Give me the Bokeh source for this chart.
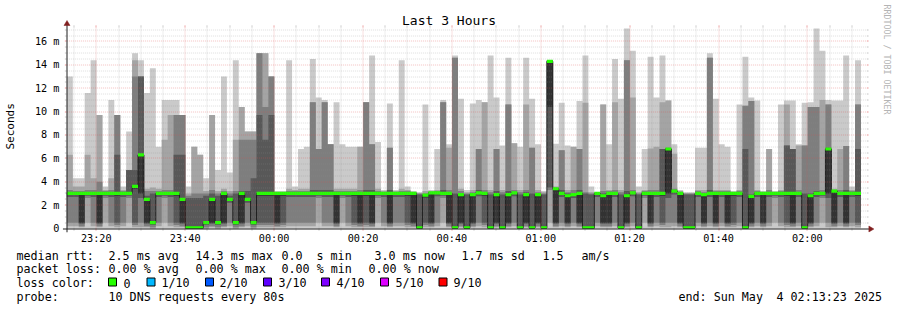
import math
import pandas as pd
from bokeh.plotting import figure
from bokeh.models import Range1d, FixedTicker, ColumnDataSource
from bokeh.layouts import column
from bokeh.embed import file_html
from bokeh.resources import INLINE
from bokeh.core.properties import value

# ---------------- data (values in milliseconds, one column per 80 s step) ----------------
start_time = "2025-05-03 23:13:23"
step_seconds = 80

ping10 = [
    13.0, 4.3, 4.3, 11.6, 14.4, 9.7, 3.6, 11.0, 9.7, 3.6,
    8.3, 15.0, 14.4, 11.6, 13.7, 7.0, 11.0, 11.0, 11.0, 9.7,
    3.6, 7.0, 6.3, 4.3, 9.7, 5.0, 13.0, 4.8, 14.4, 10.4,
    8.3, 8.3, 15.0, 15.0, 13.0, 3.2, 3.2, 14.4, 3.6, 6.8,
    7.0, 14.5, 11.2, 11.0, 7.2, 10.8, 7.2, 7.0, 7.0, 7.0,
    10.8, 14.8, 7.4, 3.3, 10.7, 3.3, 14.4, 3.6, 3.2, 3.1,
    10.6, 3.3, 6.8, 11.0, 7.2, 14.8, 11.1, 3.3, 10.7, 11.0,
    10.8, 14.8, 11.2, 7.1, 14.6, 7.3, 7.0, 14.6, 11.1, 7.2,
    3.2, 14.4, 7.25, 10.75, 7.1, 7.0, 10.9, 14.8, 3.6, 3.1,
    10.6, 7.2, 14.5, 11.1, 17.1, 15.2, 3.6, 6.8, 14.7, 11.2,
    14.8, 10.95, 7.2, 3.3, 3.1, 3.1, 6.9, 6.9, 15.0, 11.1,
    7.2, 7.0, 3.2, 10.6, 14.7, 11.2, 10.95, 3.2, 6.8, 3.2,
    10.6, 10.95, 10.95, 7.2, 10.75, 10.8, 17.1, 15.2, 11.0, 10.95,
    10.95, 14.8, 3.6, 14.4]
ping9 = [
    6.3, 3.6, 3.6, 6.3, 4.3, 9.7, 3.3, 4.3, 9.7, 3.3,
    5.0, 14.4, 13.0, 3.4, 3.5, 3.4, 7.6, 9.7, 9.7, 9.7,
    3.0, 7.0, 6.3, 3.2, 9.7, 3.2, 3.4, 3.2, 7.6, 10.4,
    8.3, 8.3, 15.0, 15.0, 13.0, 3.1, 3.1, 3.4, 3.3, 3.4,
    3.4, 10.8, 6.8, 10.8, 7.2, 3.4, 3.4, 3.4, 3.4, 7.0,
    10.8, 7.2, 3.4, 3.2, 6.9, 3.2, 3.4, 3.3, 3.1, 3.0,
    3.2, 3.2, 3.3, 10.8, 6.9, 14.6, 3.4, 3.1, 3.3, 6.8,
    10.8, 3.3, 6.8, 3.3, 10.6, 7.3, 3.3, 10.6, 6.9, 3.3,
    3.1, 14.4, 3.6, 6.7, 3.3, 7.0, 6.8, 10.75, 3.1, 3.05,
    10.6, 3.3, 10.8, 3.3, 14.4, 11.2, 3.1, 3.3, 6.85, 7.0,
    10.8, 10.95, 6.4, 3.2, 3.0, 3.0, 3.3, 3.3, 14.6, 3.3,
    3.3, 3.3, 3.1, 3.3, 10.5, 10.9, 3.3, 3.1, 6.8, 3.1,
    3.3, 10.6, 6.8, 7.1, 7.1, 10.4, 10.4, 11.0, 10.6, 3.4,
    6.8, 7.05, 3.3, 10.6]
ping8 = [
    3.3, 3.2, 3.2, 3.3, 3.3, 4.0, 3.2, 3.3, 9.7, 3.2,
    5.0, 13.0, 13.0, 3.2, 3.2, 3.2, 3.3, 3.3, 9.7, 9.7,
    2.8, 3.0, 3.0, 3.0, 3.3, 3.0, 3.2, 3.0, 3.2, 7.6,
    7.6, 7.6, 15.0, 10.4, 13.0, 3.1, 3.1, 3.2, 3.2, 3.2,
    3.2, 10.8, 6.8, 10.8, 7.2, 3.2, 3.2, 3.2, 3.2, 3.3,
    10.8, 7.2, 3.2, 3.1, 6.9, 3.1, 3.2, 3.2, 3.1, 3.0,
    3.0, 3.1, 3.2, 10.8, 3.3, 14.6, 3.2, 3.0, 3.1, 6.8,
    3.3, 3.1, 6.8, 3.1, 10.6, 3.3, 3.1, 3.3, 6.9, 3.1,
    3.0, 14.4, 3.5, 6.7, 3.1, 3.3, 6.8, 3.1, 3.0, 3.05,
    3.2, 3.2, 3.3, 3.1, 14.4, 3.3, 3.0, 3.2, 3.3, 3.3,
    6.8, 6.9, 3.4, 3.1, 3.0, 3.0, 3.2, 3.1, 14.6, 3.2,
    3.2, 3.2, 3.1, 3.2, 10.5, 10.9, 3.2, 3.1, 3.3, 3.1,
    3.2, 7.1, 6.8, 3.3, 7.1, 10.4, 10.4, 3.3, 10.6, 3.3,
    3.3, 7.05, 3.2, 10.6]
ping7 = [
    3.1, 3.1, 3.1, 3.1, 3.1, 3.1, 3.1, 3.1, 6.3, 3.1,
    5.0, 5.0, 13.0, 2.8, 3.0, 3.1, 3.1, 3.1, 6.3, 6.3,
    2.6, 2.6, 2.6, 2.8, 3.0, 2.8, 3.1, 2.8, 3.0, 3.2,
    3.2, 4.3, 9.7, 7.6, 9.7, 3.05, 3.05, 3.1, 3.1, 3.1,
    3.1, 3.3, 3.3, 3.3, 3.3, 3.1, 3.1, 3.1, 3.1, 3.1,
    3.3, 3.3, 3.1, 3.05, 3.3, 3.05, 3.1, 3.1, 3.05, 2.9,
    2.9, 3.05, 3.1, 3.3, 3.1, 3.0, 3.0, 2.9, 3.0, 3.3,
    3.1, 2.9, 3.2, 2.9, 3.2, 3.1, 2.9, 3.1, 3.0, 3.0,
    2.9, 14.4, 3.45, 3.3, 3.0, 3.0, 3.3, 3.0, 2.9, 3.0,
    3.0, 3.1, 3.1, 2.9, 3.2, 3.1, 2.9, 3.1, 3.1, 3.1,
    6.8, 6.85, 3.3, 3.05, 2.9, 2.9, 3.1, 3.0, 3.3, 3.1,
    3.1, 3.1, 3.05, 3.1, 6.8, 2.9, 3.1, 3.05, 3.1, 3.05,
    3.1, 7.1, 6.8, 3.1, 3.0, 3.0, 3.2, 3.1, 6.9, 3.25,
    3.1, 3.3, 3.1, 6.8]
median = [
    3.0, 3.0, 3.0, 3.0, 3.0, 3.0, 3.0, 3.0, 3.0, 3.0,
    3.0, 3.6, 6.3, 2.5, 0.5, 3.0, 3.0, 3.0, 3.0, 2.5,
    0.05, 0.05, 0.05, 0.5, 2.5, 0.5, 3.0, 2.5, 0.5, 3.0,
    2.5, 0.5, 3.0, 3.0, 3.0, 3.0, 3.0, 3.0, 3.0, 3.0,
    3.0, 3.0, 3.0, 3.0, 3.0, 3.0, 3.0, 3.0, 3.0, 3.0,
    3.0, 3.0, 3.0, 3.0, 3.0, 3.0, 3.0, 3.0, 3.0, 0.05,
    2.85, 3.05, 3.05, 3.0, 3.0, 0.05, 2.9, 0.05, 2.9, 3.05,
    3.0, 0.05, 2.9, 0.05, 2.9, 3.05, 0.05, 2.9, 0.05, 2.9,
    0.05, 14.3, 3.4, 3.0, 2.8, 2.9, 3.0, 0.05, 0.05, 3.0,
    2.8, 3.0, 3.0, 0.05, 2.8, 3.05, 0.05, 3.0, 3.0, 3.0,
    3.0, 6.8, 3.2, 3.0, 0.05, 0.05, 3.0, 2.9, 3.0, 3.0,
    3.0, 3.0, 3.0, 3.0, 0.05, 2.75, 3.0, 3.0, 3.0, 3.0,
    3.0, 3.0, 3.0, 3.0, 0.05, 2.8, 3.0, 3.0, 6.8, 3.2,
    3.0, 3.0, 3.0, 3.0]
ping5 = [
    2.9, 2.9, 0.5, 2.9, 2.9, 0.5, 2.9, 2.9, 2.8, 2.9,
    2.9, 3.4, 3.0, 0.5, 0.4, 2.9, 2.9, 2.9, 2.8, 0.5,
    0.0, 0.0, 0.0, 0.4, 0.5, 0.4, 0.5, 2.4, 0.4, 0.5,
    2.4, 0.4, 2.8, 2.8, 2.8, 0.5, 2.8, 2.9, 2.9, 2.9,
    2.9, 2.9, 2.9, 2.9, 2.9, 0.5, 2.9, 2.9, 2.8, 0.5,
    2.8, 0.5, 2.9, 2.9, 0.5, 2.9, 2.9, 2.8, 0.5, 0.0,
    2.65, 0.5, 2.95, 2.9, 0.5, 0.0, 0.5, 0.0, 0.5, 2.95,
    2.8, 0.0, 0.5, 0.0, 0.5, 2.95, 0.0, 0.5, 0.0, 0.5,
    0.0, 10.4, 0.5, 2.9, 0.5, 2.8, 0.5, 0.0, 0.0, 2.9,
    0.5, 0.5, 2.9, 0.0, 0.5, 2.95, 0.0, 2.9, 0.5, 2.9,
    2.8, 3.0, 3.1, 0.5, 0.0, 0.0, 2.9, 0.5, 2.9, 0.5,
    2.9, 0.5, 2.8, 2.9, 0.0, 0.5, 2.9, 0.5, 2.9, 2.9,
    2.9, 2.8, 0.5, 2.9, 0.0, 0.5, 2.9, 2.9, 3.0, 0.5,
    2.9, 0.5, 2.9, 2.8]
ping4 = [
    2.7, 2.7, 0.4, 2.8, 2.7, 0.4, 2.8, 2.7, 0.5, 2.7,
    2.8, 0.5, 2.6, 0.4, 0.3, 2.7, 2.8, 2.7, 0.5, 0.4,
    0.0, 0.0, 0.0, 0.3, 0.4, 0.3, 0.4, 2.2, 0.3, 0.4,
    2.2, 0.3, 0.5, 0.5, 0.5, 0.4, 0.5, 2.7, 2.7, 2.7,
    2.7, 2.7, 2.8, 2.7, 2.7, 0.4, 2.8, 2.7, 0.5, 0.4,
    0.5, 0.4, 2.8, 2.7, 0.4, 2.7, 2.7, 0.5, 0.4, 0.0,
    0.5, 0.4, 2.75, 2.8, 0.4, 0.0, 0.4, 0.0, 0.4, 2.75,
    0.5, 0.0, 0.4, 0.0, 0.4, 2.75, 0.0, 0.4, 0.0, 0.4,
    0.0, 3.5, 0.4, 2.7, 0.4, 2.6, 0.4, 0.0, 0.0, 2.7,
    0.4, 0.4, 2.7, 0.0, 0.4, 2.75, 0.0, 2.8, 0.4, 2.7,
    0.5, 2.6, 2.9, 0.4, 0.0, 0.0, 2.7, 0.4, 2.7, 0.4,
    2.7, 0.4, 0.5, 2.7, 0.0, 0.4, 2.7, 0.4, 2.7, 2.8,
    2.7, 0.5, 0.4, 2.7, 0.0, 0.4, 2.7, 2.8, 2.6, 0.4,
    2.7, 0.4, 2.7, 0.5]
ping3 = [
    0.5, 0.5, 0.2, 2.6, 0.5, 0.2, 2.6, 0.5, 0.3, 0.5,
    2.6, 0.3, 0.5, 0.2, 0.1, 0.5, 2.6, 0.5, 0.3, 0.2,
    0.0, 0.0, 0.0, 0.1, 0.2, 0.1, 0.2, 0.5, 0.1, 0.2,
    0.5, 0.1, 0.3, 0.3, 0.3, 0.2, 0.3, 0.5, 0.5, 0.5,
    0.5, 0.5, 2.6, 0.5, 0.5, 0.2, 2.6, 0.5, 0.3, 0.2,
    0.3, 0.2, 2.6, 0.5, 0.2, 0.5, 0.5, 0.3, 0.2, 0.0,
    0.3, 0.2, 0.5, 2.6, 0.2, 0.0, 0.2, 0.0, 0.2, 0.5,
    0.3, 0.0, 0.2, 0.0, 0.2, 0.5, 0.0, 0.2, 0.0, 0.2,
    0.0, 3.3, 0.2, 0.5, 0.2, 0.5, 0.2, 0.0, 0.0, 0.5,
    0.2, 0.2, 0.5, 0.0, 0.2, 0.5, 0.0, 2.6, 0.2, 0.5,
    0.3, 0.5, 0.5, 0.2, 0.0, 0.0, 0.5, 0.2, 0.5, 0.2,
    0.5, 0.2, 0.3, 0.5, 0.0, 0.2, 0.5, 0.2, 0.5, 2.6,
    0.5, 0.3, 0.2, 0.5, 0.0, 0.2, 0.5, 2.6, 0.5, 0.2,
    0.5, 0.2, 0.5, 0.3]
ping2 = [
    0.2, 0.2, 0.1, 0.5, 0.2, 0.1, 0.5, 0.2, 0.1, 0.2,
    0.5, 0.1, 0.1, 0.1, 0.0, 0.2, 0.5, 0.2, 0.1, 0.1,
    0.0, 0.0, 0.0, 0.0, 0.1, 0.0, 0.1, 0.2, 0.0, 0.1,
    0.2, 0.0, 0.1, 0.1, 0.1, 0.1, 0.1, 0.2, 0.2, 0.2,
    0.2, 0.2, 0.5, 0.2, 0.2, 0.1, 0.5, 0.2, 0.1, 0.1,
    0.1, 0.1, 0.5, 0.2, 0.1, 0.2, 0.2, 0.1, 0.1, 0.0,
    0.1, 0.1, 0.2, 0.5, 0.1, 0.0, 0.1, 0.0, 0.1, 0.2,
    0.1, 0.0, 0.1, 0.0, 0.1, 0.2, 0.0, 0.1, 0.0, 0.1,
    0.0, 0.5, 0.1, 0.2, 0.1, 0.2, 0.1, 0.0, 0.0, 0.2,
    0.1, 0.1, 0.2, 0.0, 0.1, 0.2, 0.0, 0.5, 0.1, 0.2,
    0.1, 0.1, 0.2, 0.1, 0.0, 0.0, 0.2, 0.1, 0.2, 0.1,
    0.2, 0.1, 0.1, 0.2, 0.0, 0.1, 0.2, 0.1, 0.2, 0.5,
    0.2, 0.1, 0.1, 0.2, 0.0, 0.1, 0.2, 0.5, 0.1, 0.1,
    0.2, 0.1, 0.2, 0.1]
ping1 = [
    0.0, 0.0, 0.0, 0.0, 0.0, 0.0, 0.0, 0.0, 0.0, 0.0,
    0.0, 0.0, 0.0, 0.0, 0.0, 0.0, 0.0, 0.0, 0.0, 0.0,
    0.0, 0.0, 0.0, 0.0, 0.0, 0.0, 0.0, 0.0, 0.0, 0.0,
    0.0, 0.0, 0.0, 0.0, 0.0, 0.0, 0.0, 0.0, 0.0, 0.0,
    0.0, 0.0, 0.0, 0.0, 0.0, 0.0, 0.0, 0.0, 0.0, 0.0,
    0.0, 0.0, 0.0, 0.0, 0.0, 0.0, 0.0, 0.0, 0.0, 0.0,
    0.0, 0.0, 0.0, 0.0, 0.0, 0.0, 0.0, 0.0, 0.0, 0.0,
    0.0, 0.0, 0.0, 0.0, 0.0, 0.0, 0.0, 0.0, 0.0, 0.0,
    0.0, 0.0, 0.0, 0.0, 0.0, 0.0, 0.0, 0.0, 0.0, 0.0,
    0.0, 0.0, 0.0, 0.0, 0.0, 0.0, 0.0, 0.0, 0.0, 0.0,
    0.0, 0.0, 0.0, 0.0, 0.0, 0.0, 0.0, 0.0, 0.0, 0.0,
    0.0, 0.0, 0.0, 0.0, 0.0, 0.0, 0.0, 0.0, 0.0, 0.0,
    0.0, 0.0, 0.0, 0.0, 0.0, 0.0, 0.0, 0.0, 0.0, 0.0,
    0.0, 0.0, 0.0, 0.0]

y_ticks = [0, 2, 4, 6, 8, 10, 12, 14, 16]
y_tick_labels = ["0", "2 m", "4 m", "6 m", "8 m", "10 m", "12 m", "14 m", "16 m"]
x_tick_times = ["2025-05-03 23:20", "2025-05-03 23:40", "2025-05-04 00:00",
                "2025-05-04 00:20", "2025-05-04 00:40", "2025-05-04 01:00",
                "2025-05-04 01:20", "2025-05-04 01:40", "2025-05-04 02:00"]
x_tick_labels = ["23:20", "23:40", "00:00", "00:20", "00:40", "01:00", "01:20", "01:40", "02:00"]

loss_labels = ["0", "1/10", "2/10", "3/10", "4/10", "5/10", "9/10"]
loss_colors = ["#26ff00", "#00b8ff", "#0059ff", "#5e00ff", "#7e00ff", "#dd00ff", "#ff0000"]

title_text = "Last 3 Hours"
y_label = "Seconds"
watermark = "RRDTOOL / TOBI OETIKER"
stats_line1 = ["median rtt:", "2.5 ms avg", "14.3 ms max", "0.0", "s min", "3.0 ms now", "1.7 ms sd", "1.5", "am/s"]
stats_line2 = ["packet loss:", "0.00 % avg", "0.00 % max", "0.00 % min", "0.00 % now"]
stats_line3 = ["loss color:"]
stats_line4 = ["probe:", "10 DNS requests every 80s", "end: Sun May", "4 02:13:23 2025"]

n = len(median)
for arr in (ping10, ping9, ping8, ping7, ping5, ping4, ping3, ping2, ping1):
    assert len(arr) == n

# ---------------- geometry ----------------
MS = 1000
t0 = pd.Timestamp(start_time).value // 10**6
W, H_MAIN, H_LEG = 897, 250, 60
X0 = 66.4                 # canvas x of first sample
PX_PER_S = 800.0 / 10800  # 3 hours over 800 px
Y0 = 228.0                # canvas y of 0
PX_PER_MS = 11.69
X1 = X0 + 800.0
Y1 = 27.0

def xd(px):
    return t0 + (px - X0) / PX_PER_S * MS

def yd(py):
    return (Y0 - py) / PX_PER_MS

def snap(v):
    return math.floor(v) + 0.5

xs = [t0 + k * step_seconds * MS for k in range(n + 1)]

def ext(a):
    return list(a) + [a[-1]]

FONT = value("DejaVu Sans Mono")

p = figure(width=W, height=H_MAIN, x_range=Range1d(xd(62), xd(W)), y_range=Range1d(yd(232), yd(0)),
           output_backend="svg", toolbar_location=None, title=None,
           min_border_left=62, min_border_right=0, min_border_top=0, min_border_bottom=18)
p.outline_line_color = None
p.xgrid.visible = False
p.ygrid.visible = False
p.background_fill_color = "white"
p.border_fill_color = "white"

def band(fig, lo, hi, color):
    if hasattr(fig, "varea_step"):
        fig.varea_step(x=xs, y1=ext(lo), y2=ext(hi), step_mode="after", fill_color=color)
    else:
        fig.quad(left=xs[:-1], right=xs[1:], bottom=lo, top=hi, fill_color=color,
                 line_color=color, line_width=0.5)

# smoke: pairs of sorted pings, darker towards the median
layers = [(ping1, ping10, "#cacaca"), (ping2, ping9, "#a4a4a4"), (ping3, ping8, "#7e7e7e"),
          (ping4, ping7, "#585858"), (ping5, median, "#323232")]
for lo, hi, col in layers:
    band(p, lo, hi, col)

# median line and loss-coloured band
p.step(x=xs, y=ext(median), mode="after", line_color="#202020", line_width=1)
sw = 1.6 / PX_PER_MS
band(p, [max(m - sw, 0.0) for m in median], [m + sw for m in median], loss_colors[0])

# ---------------- grid (rrdtool style, on top) ----------------
GRID_C, GRID_A, GRID_W = "#8f8f8f", 0.75, 0.4
MGRID_C, MGRID_A, MGRID_W = "#de4f4f", 0.6, 0.6

def hgrid(vals, color, alpha, width):
    ys = [yd(snap(Y0 - PX_PER_MS * v)) for v in vals]
    p.segment(x0=[xd(X0 - 2)] * len(ys), y0=ys, x1=[xd(X1 + 2)] * len(ys), y1=ys,
              line_color=color, line_alpha=alpha, line_width=width, line_dash="1 1")
    p.segment(x0=[xd(X0 - 2)] * len(ys) + [xd(X1)] * len(ys), y0=ys + ys,
              x1=[xd(X0)] * len(ys) + [xd(X1 + 2)] * len(ys), y1=ys + ys,
              line_color=color, line_alpha=alpha, line_width=width)

def vgrid(times_ms, color, alpha, width):
    xv = [xd(snap(X0 + PX_PER_S * (t - t0) / MS)) for t in times_ms]
    m = len(xv)
    p.segment(x0=xv, y0=[yd(Y0 + 2)] * m, x1=xv, y1=[yd(Y1 - 2)] * m,
              line_color=color, line_alpha=alpha, line_width=width, line_dash="1 1")
    p.segment(x0=xv + xv, y0=[yd(Y0)] * m + [yd(Y1 - 2)] * m,
              x1=xv + xv, y1=[yd(Y0 + 2)] * m + [yd(Y1)] * m,
              line_color=color, line_alpha=alpha, line_width=width)

minor_vals = [k * 0.5 for k in range(1, 35) if (k * 0.5) % 2 != 0]
major_vals = y_ticks[1:]
hgrid(minor_vals, GRID_C, GRID_A, GRID_W)
hgrid(major_vals, MGRID_C, MGRID_A, MGRID_W)

five_min = pd.date_range("2025-05-03 23:15", "2025-05-04 02:10", freq="5min")
major_ms = [pd.Timestamp(t).value // 10**6 for t in x_tick_times]
minor_ms = [t.value // 10**6 for t in five_min if (t.value // 10**6) not in major_ms]
vgrid(minor_ms, GRID_C, GRID_A, GRID_W)
vgrid(major_ms, MGRID_C, MGRID_A, MGRID_W)

# ---------------- axes lines and arrows ----------------
AX = "#1f1f1f"
ax_x = snap(X0)
ax_y = Y0 + 0.5
p.segment(x0=[xd(X0 - 4)], y0=[yd(ax_y)], x1=[xd(X1 + 4)], y1=[yd(ax_y)], line_color=AX, line_width=1)
p.segment(x0=[xd(ax_x)], y0=[yd(Y0 + 4)], x1=[xd(ax_x)], y1=[yd(Y1 - 4)], line_color=AX, line_width=1)
ARROW = "#801f1f"
p.patches(xs=[[xd(X1 + 2), xd(X1 + 2), xd(X1 + 7)], [xd(ax_x - 3), xd(ax_x + 3), xd(ax_x)]],
          ys=[[yd(ax_y - 3), yd(ax_y + 3), yd(ax_y)], [yd(Y1 - 2), yd(Y1 - 2), yd(Y1 - 7)]],
          fill_color=ARROW, line_color=ARROW, line_width=0.5)

# ---------------- texts inside main figure ----------------
p.text(x=[xd(448.5)], y=[yd(19.5)], text=[title_text], text_font=FONT, text_font_size="13px",
       text_align="center", text_baseline="alphabetic", text_color="black")
p.text(x=[xd(886)], y=[yd(4)], text=[watermark], angle=-math.pi / 2, text_font=FONT,
       text_font_size="8.3px", text_align="left", text_baseline="middle", text_color="#b4b4b4")

# ---------------- axes (tick labels) ----------------
p.yaxis.ticker = FixedTicker(ticks=y_ticks)
p.yaxis.major_label_overrides = dict(zip(y_ticks, y_tick_labels))
p.yaxis.axis_label = y_label + "\u00a0\u00a0\u00a0"
p.yaxis.axis_label_text_font = "DejaVu Sans Mono"
p.yaxis.axis_label_text_font_size = "11px"
p.yaxis.axis_label_text_font_style = "normal"
p.yaxis.axis_label_text_color = "black"
p.yaxis.axis_label_standoff = 15
p.yaxis.major_label_standoff = 3

p.xaxis.ticker = FixedTicker(ticks=major_ms)
p.xaxis.major_label_overrides = dict(zip(major_ms, x_tick_labels))
p.xaxis.major_label_standoff = 0

for ax in (p.xaxis[0], p.yaxis[0]):
    ax.axis_line_color = None
    ax.major_tick_line_color = None
    ax.minor_tick_line_color = None
    ax.major_tick_out = 0
    ax.major_tick_in = 0
    ax.minor_tick_out = 0
    ax.minor_tick_in = 0
    ax.major_label_text_font = "DejaVu Sans Mono"
    ax.major_label_text_font_size = "10.2px"
    ax.major_label_text_color = "black"

# ---------------- legend figure ----------------
q = figure(width=W, height=H_LEG, x_range=Range1d(0, W), y_range=Range1d(H_LEG, 0),
           output_backend="svg", toolbar_location=None, title=None, min_border=0,
           x_axis_location=None, y_axis_location=None)
q.outline_line_color = None
q.xgrid.visible = False
q.ygrid.visible = False
q.background_fill_color = "white"
q.border_fill_color = "white"

base = [5.0, 18.5, 32.5, 46.0]
line1_x = [16, 108, 195, 281, 316, 374, 461, 542, 581]
line2_x = [16, 108, 195, 281, 368]
line4_x = [16, 108, 678, 776]
tok_text = stats_line1 + stats_line2 + stats_line3 + loss_labels + stats_line4
tok_x = line1_x + line2_x + [16] + [123, 161, 219, 278, 336, 395, 453] + line4_x
tok_y = ([base[0]] * len(stats_line1) + [base[1]] * len(stats_line2) +
         [base[2]] * (1 + len(loss_labels)) + [base[3]] * len(stats_line4))
src = ColumnDataSource(dict(x=tok_x, y=tok_y, text=tok_text))
q.text(x="x", y="y", text="text", source=src, text_font=FONT, text_font_size="11.7px",
       text_align="left", text_baseline="alphabetic", text_color="black")

box_left = [108, 146.5, 205, 263, 321, 380, 438.5]
q.rect(x=[b + 4 for b in box_left], y=[31.5] * len(box_left), width=8, height=8,
       fill_color=loss_colors, line_color="black", line_width=1)

if "frame_align" in type(p).properties():
    p.frame_align = False
    q.frame_align = False
    page = column(p, q, spacing=0)
else:
    page = [p, q]

open("out.html", "w").write(file_html(page, INLINE))
